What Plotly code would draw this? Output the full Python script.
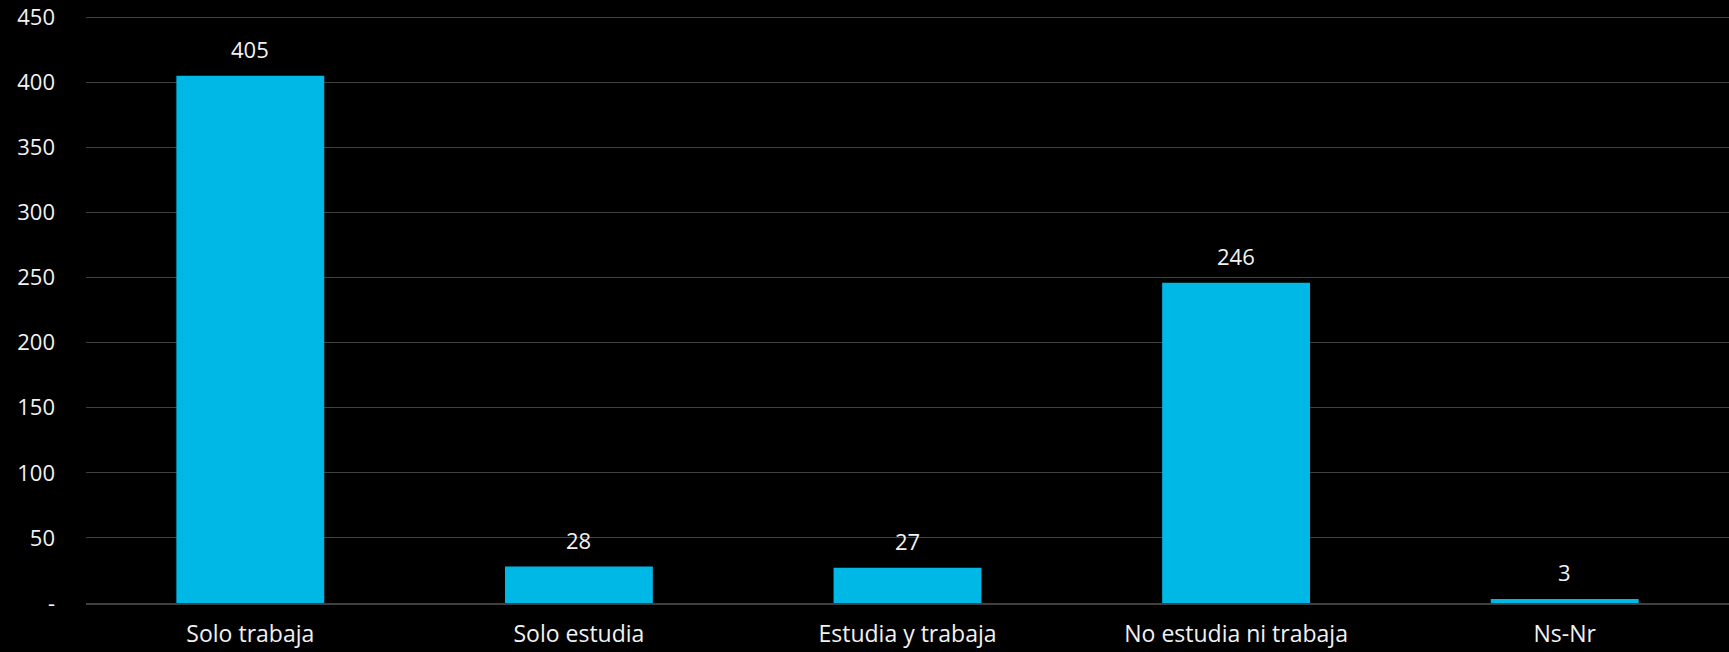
import plotly.graph_objects as go

categories = ["Solo trabaja", "Solo estudia", "Estudia y trabaja", "No estudia ni trabaja", "Ns-Nr"]
values = [405, 28, 27, 246, 3]
tick_vals = [0, 50, 100, 150, 200, 250, 300, 350, 400, 450]
tick_text = ["-", "50", "100", "150", "200", "250", "300", "350", "400", "450"]

FONT = "Open Sans"
TXT = "#f2f2f2"

fig = go.Figure(go.Bar(
    x=categories, y=values,
    marker=dict(color="#00B8E6", line=dict(width=0)),
    width=0.45,
    cliponaxis=False,
))

for c, v in zip(categories, values):
    fig.add_annotation(
        x=c, y=v, text=str(v), showarrow=False,
        yanchor="bottom", yshift=10,
        font=dict(family=FONT, size=22, color=TXT),
    )

fig.update_layout(
    width=1729, height=652,
    paper_bgcolor="black", plot_bgcolor="black",
    margin=dict(l=86, r=0, t=16, b=49),
    showlegend=False,
    font=dict(family=FONT, size=22, color=TXT),
)
fig.update_xaxes(
    showgrid=False, showline=True, linecolor="#404040", linewidth=1.5,
    tickfont=dict(family=FONT, size=23, color=TXT), ticks="",
    ticklabelstandoff=10,
    range=[-0.5, 4.5],
)
fig.update_yaxes(
    range=[0, 451], tickvals=tick_vals, ticktext=tick_text,
    showgrid=True, gridcolor="#404040", gridwidth=1.2,
    zeroline=False, ticks="", ticklabelstandoff=30,
    tickfont=dict(family=FONT, size=22, color=TXT),
)

fig.write_html(
    "out.html",
    config={"displayModeBar": False},
    post_script="document.body.style.margin='0';document.body.style.background='black';",
)
